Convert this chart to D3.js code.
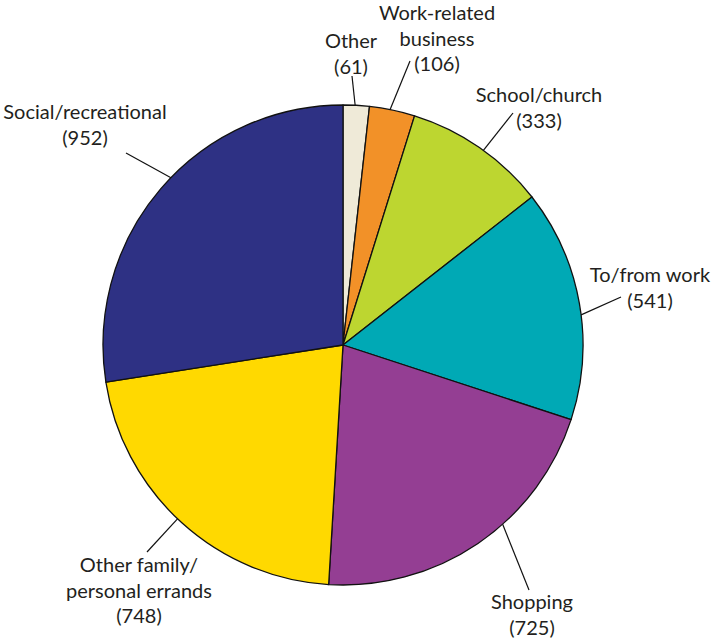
<!DOCTYPE html>
<html>
<head>
<meta charset="utf-8">
<script src="https://cdn.jsdelivr.net/npm/d3@7"></script>
<style>
  html, body { margin: 0; padding: 0; background: #fff; }
  svg text { font-family: Lato, "Open Sans", sans-serif; font-size: 20px; fill: #231f20; }
</style>
</head>
<body>
<svg id="chart" width="713" height="639"></svg>
<script>
// Trip purposes, clockwise from 12 o'clock
const categories = ["Other", "Work-related business", "School/church", "To/from work", "Shopping", "Other family/personal errands", "Social/recreational"];
const tripCounts = [61, 106, 333, 541, 725, 748, 952];
const labelLines = [
  ["Other", "(61)"],
  ["Work-related", "business", "(106)"],
  ["School/church", "(333)"],
  ["To/from work", "(541)"],
  ["Shopping", "(725)"],
  ["Other family/", "personal errands", "(748)"],
  ["Social/recreational", "(952)"]
];
const sliceColors = ["#efead8", "#f29128", "#bdd630", "#00a9b5", "#943e93", "#ffd900", "#2e3184"];

// Label placement: text centre, first baseline, leader start angle (deg) and leader end
const labelLayout = [
  { x: 351, y: 48,  leadDeg: 2.9,   end: [352, 76] },
  { x: 437, y: 20,  leadDeg: 11.3,  end: [410, 61] },
  { x: 539, y: 102, leadDeg: 35.8,  end: [513, 113] },
  { x: 650, y: 282, leadDeg: 82.8,  end: [621, 297] },
  { x: 532, y: 609, leadDeg: 138.3, end: [529, 590] },
  { x: 139, y: 572, leadDeg: 223.6, end: [147, 552] },
  { x: 85,  y: 119, leadDeg: 314.2, end: [126, 153] }
];
const lineHeight = 25.5;

const svg = d3.select("#chart");
const cx = 343, cy = 345, radius = 240;

const pie = d3.pie().sort(null).value(d => d.value).startAngle(0).endAngle(2 * Math.PI);
const data = categories.map((c, i) => ({ name: c, value: tripCounts[i], color: sliceColors[i] }));
const arcs = pie(data);
const arc = d3.arc().innerRadius(0).outerRadius(radius);

const g = svg.append("g").attr("transform", `translate(${cx},${cy})`);
g.selectAll("path.slice")
  .data(arcs)
  .join("path")
  .attr("class", "slice")
  .attr("d", arc)
  .attr("fill", d => d.data.color)
  .attr("stroke", "#111")
  .attr("stroke-width", 1.3)
  .attr("stroke-linejoin", "round");

// Leader lines from the rim to each label
svg.append("g").selectAll("line")
  .data(labelLayout)
  .join("line")
  .attr("x1", d => cx + radius * Math.sin(d.leadDeg * Math.PI / 180))
  .attr("y1", d => cy - radius * Math.cos(d.leadDeg * Math.PI / 180))
  .attr("x2", d => d.end[0])
  .attr("y2", d => d.end[1])
  .attr("stroke", "#111")
  .attr("stroke-width", 1.2);

// Category names with counts
const labels = svg.append("g").selectAll("text")
  .data(arcs)
  .join("text")
  .attr("text-anchor", "middle")
  .attr("x", (d, i) => labelLayout[i].x)
  .attr("y", (d, i) => labelLayout[i].y);
labels.each(function(d, i) {
  const lines = labelLines[i].slice(0, -1).concat([`(${d.data.value})`]);
  d3.select(this).selectAll("tspan")
    .data(lines)
    .join("tspan")
    .attr("x", labelLayout[i].x)
    .attr("dy", (t, j) => j === 0 ? 0 : lineHeight)
    .text(t => t);
});
</script>
</body>
</html>
